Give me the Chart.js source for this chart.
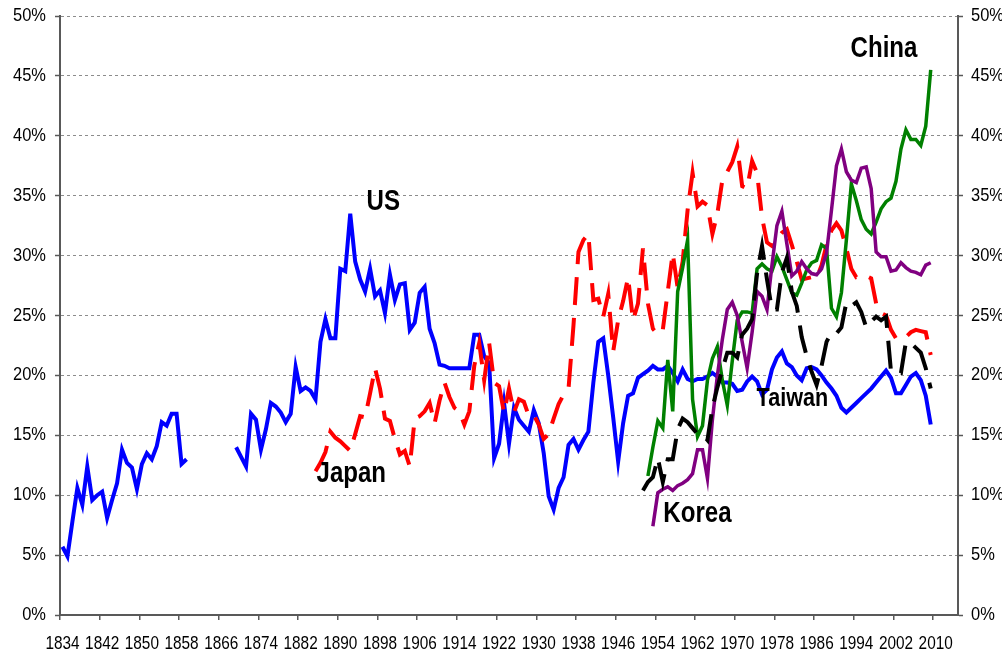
<!DOCTYPE html>
<html>
<head>
<meta charset="utf-8">
<script src="https://cdn.jsdelivr.net/npm/chart.js@4.4.1/dist/chart.umd.min.js"></script>
<style>
  html, body { margin: 0; padding: 0; background: #ffffff; }
  #wrap { width: 1002px; height: 652px; position: relative; }
</style>
</head>
<body>
<div id="wrap"><canvas id="c" width="1002" height="652"></canvas></div>
<script>
// ---- categories (years) ----
const firstYear = 1834;
const lastYear = 2014;
const years = [];
for (let y = firstYear; y <= lastYear; y++) years.push(String(y));

// ---- tick labels ----
const yTickValues = [0, 5, 10, 15, 20, 25, 30, 35, 40, 45, 50];

// ---- series values (percent), each with its first year ----
const usStart = 1834;
const usValues = [
  5.7, 4.9, 7.8, 10.6, 9.2, 12.4, 9.6, 10.0, 10.3, 8.1,
  9.6, 11.0, 13.8, 12.7, 12.3, 10.5, 12.6, 13.5, 13.0, 14.1,
  16.1, 15.8, 16.8, 16.8, 12.6, 13.0,
  null, null, null, null, null, null, null, null, null,
  14.0, 13.2, 12.4, 16.8, 16.3, 13.8, 15.5, 17.7, 17.4, 16.9,
  16.1, 16.8, 20.7, 18.7, 19.0, 18.7, 18.0, 22.8, 24.7, 23.1,
  23.1, 28.9, 28.7, 33.5, 29.5, 28.0, 27.0, 28.9, 26.6, 27.1,
  25.2, 28.4, 26.3, 27.6, 27.7, 23.8, 24.4, 26.9, 27.4, 23.9,
  22.7, 20.9, 20.8, 20.6, 20.6, 20.6, 20.6, 20.6, 23.4, 23.4,
  21.6, 21.0, 13.1, 14.3, 17.7, 14.3, 17.3, 16.3, 15.8, 15.3,
  17.1, 16.0, 13.5, 9.9, 8.8, 10.6, 11.5, 14.2, 14.7, 13.8,
  14.6, 15.3, 19.4, 22.8, 23.1, 20.0, 16.5, 12.8, 16.0, 18.3,
  18.5, 19.8, 20.1, 20.4, 20.8, 20.5, 20.5, 20.8, 20.2, 19.5,
  20.5, 19.7, 19.5, 19.7, 19.7, 19.9, 20.2, 19.9, 19.4, 19.4,
  19.3, 18.7, 18.8, 19.5, 19.9, 19.5, 18.4, 18.8, 20.5, 21.5,
  22.0, 21.0, 20.7, 20.0, 19.6, 20.6, 20.7, 20.5, 20.0, 19.4,
  18.9, 18.3, 17.3, 16.9, 17.3, 17.7, 18.1, 18.5, 18.9, 19.4,
  19.9, 20.4, 19.8, 18.5, 18.5, 19.2, 19.9, 20.2, 19.6, 18.3,
  15.9
];

const japanStart = 1885;
const japanValues = [
  12.0, 12.7, 13.6, 15.3, 14.8, 14.5, 14.1, 13.7, 15.1, 16.6,
  16.5, 18.5, 20.6, 18.9, 16.4, 16.2, 14.7, 13.4, 13.7, 12.4,
  16.4, 16.6, 17.0, 17.7, 16.0, 17.9, 19.4, 18.2, 17.3, 17.0,
  15.9, 17.0, 20.8, 22.7, 19.6, 22.7, 19.4, 19.1, 16.9, 18.9,
  16.9, 18.0, 17.8, 16.6, 16.7, 15.9, 14.7, 15.1, 16.4, 17.6,
  18.4, 18.9, 24.2, 30.3, 31.3, 31.8, 26.3, 26.4, 24.9, 26.8,
  22.0, 24.6, 26.2, 28.2, 24.6, 26.0, 30.6, 26.0, 23.9, 23.4,
  23.8, 27.0, 30.2, 27.3, 29.5, 33.8, 36.9, 34.1, 34.5, 34.2,
  31.8, 33.5, 36.3, 37.0, 37.8, 39.1, 35.8, 35.6, 37.9, 36.9,
  33.2, 31.1, 30.8, 31.4, 31.9, 32.2, 30.9, 29.5, 28.0, 28.1,
  28.2, 28.1, 29.2, 30.9, 32.1, 32.7, 32.1, 30.6, 28.9, 28.2,
  28.3, 28.3, 28.1, 26.0, 25.2, 25.0, 23.8, 23.1, 23.0, 23.2,
  23.6, 23.8, 23.7, 23.6, 21.7
];

const chinaStart = 1952;
const chinaValues = [
  11.6, 14.0, 16.2, 15.6, 21.3, 17.0, 27.0, 29.0, 31.3, 18.0,
  14.9, 15.8, 19.6, 21.4, 22.4, 19.6, 17.5, 21.2, 24.6, 25.3,
  25.3, 25.2, 28.9, 29.3, 28.9, 28.7, 29.9, 29.1, 28.0, 26.9,
  26.7, 27.7, 28.8, 29.4, 29.6, 30.9, 30.6, 25.6, 24.9, 26.9,
  31.3, 36.0, 34.6, 33.0, 32.2, 31.8, 32.8, 33.9, 34.5, 34.8,
  36.2, 38.9, 40.5, 39.7, 39.7, 39.2, 40.8, 45.5
];

const koreaStart = 1953;
const koreaValues = [
  7.4, 10.2, 10.5, 10.7, 10.4, 10.8, 11.0, 11.3, 11.8, 13.8,
  13.8, 11.4, 16.3, 20.0, 23.0, 25.5, 26.1, 25.0, 22.8, 20.6,
  23.6, 27.0, 26.6, 25.5, 29.2, 32.5, 33.7, 31.0, 28.3, 28.7,
  29.5, 28.9, 28.5, 28.4, 28.9, 30.2, 33.8, 37.5, 38.9, 37.0,
  36.3, 36.1, 37.3, 37.4, 35.6, 30.3, 29.9, 29.9, 28.7, 28.8,
  29.4, 29.0, 28.7, 28.6, 28.4, 29.2, 29.4
];

const taiwanStart = 1951;
const taiwanValues = [
  10.4, 11.1, 11.5, 13.1, 11.1, 13.0, 13.0, 15.5, 16.4, 16.1,
  15.6, 15.1, 15.1, 14.6, 17.3, 19.0, 20.5, 21.9, 21.9, 21.5,
  23.4, 23.9, 24.7, 28.5, 30.8, 28.0, 25.5, 25.5, 28.6, 29.8,
  27.0, 25.8, 23.2, 21.6, 20.3, 19.2, 20.8, 22.8, 23.6, 23.5,
  24.0, 26.1, 25.8, 26.1, 25.3, 24.0, 24.5, 24.9, 24.6, 24.9,
  20.3, 20.2, 20.2, 22.8, 22.7, 22.3, 21.9, 20.6, 18.9
];

// ---- text labels inside the plot (year, percent of the text's left baseline) ----
const seriesLabels = [
  { text: 'US',     year: 1895.3, pct: 33.8, size: 29 },
  { text: 'Japan',  year: 1885.2, pct: 11.1, size: 29 },
  { text: 'China',  year: 1992.85, pct: 46.6, size: 29 },
  { text: 'Korea',  year: 1955.1, pct: 7.8,  size: 29 },
  { text: 'Taiwan', year: 1973.9, pct: 17.45, size: 26 }
];

function alignSeries(start, values) {
  const out = new Array(years.length).fill(null);
  values.forEach((v, i) => {
    const idx = start - firstYear + i;
    if (idx >= 0 && idx < out.length) out[idx] = v;
  });
  return out;
}

const FONT = "'Liberation Sans', Arial, sans-serif";
const AXIS = '#595959';

// The reference uses a condensed face; draw all canvas text horizontally condensed.
const canvas = document.getElementById('c');
const ctx2d = canvas.getContext('2d');
const nativeFillText = ctx2d.fillText.bind(ctx2d);
ctx2d.fillText = function (text, x, y, maxWidth) {
  const s = String(text);
  const factor = /%$/.test(s) ? 0.89 : 0.83;
  const w = ctx2d.measureText(s).width * factor;
  const mw = (maxWidth !== undefined && maxWidth !== null) ? Math.min(maxWidth, w) : w;
  nativeFillText(s, x, y, mw);
};

const labelPlugin = {
  id: 'seriesLabels',
  afterDatasetsDraw(chart) {
    const { ctx, scales } = chart;
    ctx.save();
    ctx.fillStyle = '#000000';
    ctx.textAlign = 'left';
    ctx.textBaseline = 'alphabetic';
    seriesLabels.forEach(l => {
      ctx.font = 'bold ' + l.size + 'px ' + FONT;
      const px = scales.x.getPixelForValue(l.year - firstYear);
      const py = scales.y.getPixelForValue(l.pct);
      ctx.fillText(l.text, px, py);
    });
    ctx.restore();
  }
};

const lineDs = (label, data, color, width, dash, order) => ({
  label, data,
  borderColor: color,
  backgroundColor: color,
  borderWidth: width,
  borderDash: dash,
  pointRadius: 0,
  pointHoverRadius: 0,
  tension: 0,
  spanGaps: false,
  fill: false,
  order
});

const yTicks = {
  color: '#000000',
  font: { family: FONT, size: 18.5 },
  callback: v => v + '%'
};

const fixVertical = w => s => { s.width = w; s.paddingTop = 0; s.paddingBottom = 0; };

new Chart(canvas, {
  type: 'line',
  data: {
    labels: years,
    datasets: [
      lineDs('US', alignSeries(usStart, usValues), '#0000FF', 4, [], 5),
      lineDs('Japan', alignSeries(japanStart, japanValues), '#FF0000', 4, [28, 13], 4),
      lineDs('China', alignSeries(chinaStart, chinaValues), '#008000', 3.5, [], 3),
      lineDs('Korea', alignSeries(koreaStart, koreaValues), '#800080', 3.5, [], 2),
      lineDs('Taiwan', alignSeries(taiwanStart, taiwanValues), '#000000', 4, [28, 13], 1)
    ]
  },
  options: {
    responsive: false,
    animation: false,
    events: [],
    layout: { padding: { top: 16, left: 0, right: 0, bottom: 0 } },
    plugins: { legend: { display: false }, tooltip: { enabled: false } },
    scales: {
      x: {
        type: 'category',
        offset: true,
        grid: {
          offset: true,
          drawOnChartArea: false,
          drawTicks: true,
          tickLength: 5,
          lineWidth: 1.5,
          color: c => (c.index % 8 === 0 ? AXIS : 'rgba(0,0,0,0)'),
          tickColor: c => (c.index % 8 === 0 ? AXIS : 'rgba(0,0,0,0)')
        },
        border: { color: AXIS, width: 2 },
        ticks: {
          autoSkip: false,
          maxRotation: 0,
          minRotation: 0,
          padding: 13,
          color: '#000000',
          font: { family: FONT, size: 18.5 },
          callback: (v, i) => (i % 8 === 0 ? years[i] : '')
        },
        afterFit: s => { s.height = 37; s.paddingLeft = 0; s.paddingRight = 0; }
      },
      y: {
        position: 'left',
        min: 0, max: 50,
        afterBuildTicks: s => { s.ticks = yTickValues.map(v => ({ value: v })); },
        ticks: Object.assign({ padding: 9 }, yTicks),
        grid: {
          color: '#8c8c8c',
          lineWidth: 1,
          tickLength: 5,
          tickColor: AXIS,
          tickBorderDash: [],
          tickWidth: 1.5
        },
        border: { color: AXIS, width: 2, dash: [3, 3] },
        afterFit: fixVertical(60)
      },
      y2: {
        position: 'right',
        min: 0, max: 50,
        afterBuildTicks: s => { s.ticks = yTickValues.map(v => ({ value: v })); },
        ticks: Object.assign({ padding: 8 }, yTicks),
        grid: {
          drawOnChartArea: false,
          tickLength: 5,
          color: AXIS,
          tickColor: AXIS,
          tickBorderDash: [],
          tickWidth: 1.5
        },
        border: { color: AXIS, width: 2 },
        afterFit: fixVertical(44)
      }
    }
  },
  plugins: [labelPlugin]
});
</script>
</body>
</html>
